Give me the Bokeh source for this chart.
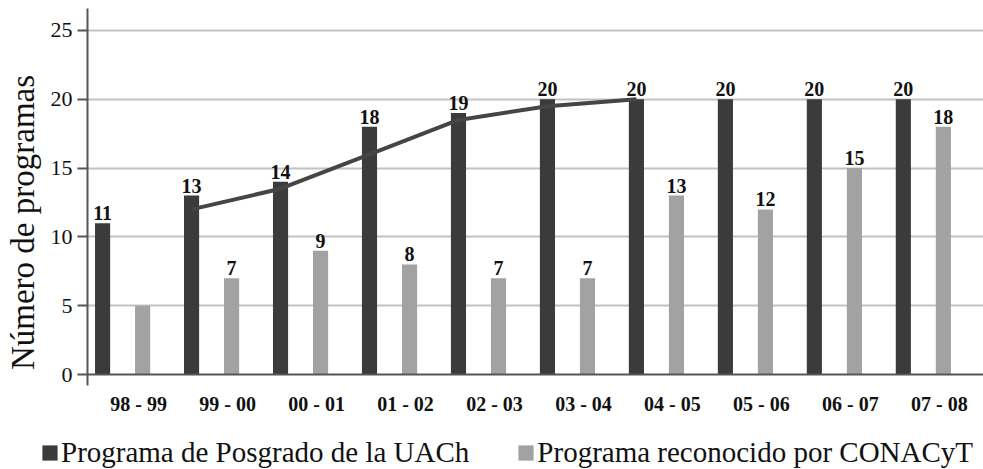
import math
from bokeh.plotting import figure
from bokeh.models import ColumnDataSource, Range1d, FixedTicker, Legend, LegendItem, Label
from bokeh.core.properties import value
from bokeh.embed import file_html
from bokeh.resources import INLINE

# Ciclos escolares
periodos = ["98 - 99", "99 - 00", "00 - 01", "01 - 02", "02 - 03",
            "03 - 04", "04 - 05", "05 - 06", "06 - 07", "07 - 08"]
# Programas de posgrado de la UACh
posgrado_uach = [11, 13, 14, 18, 19, 20, 20, 20, 20, 20]
# Programas reconocidos por CONACyT
reconocidos_conacyt = [5, 7, 9, 8, 7, 7, 13, 12, 15, 18]
etiquetas_conacyt = ["", "7", "9", "8", "7", "7", "13", "12", "15", "18"]
# Línea de tendencia (media móvil de dos periodos) sobre la serie UACh
tendencia_periodos = ["99 - 00", "00 - 01", "01 - 02", "02 - 03", "03 - 04", "04 - 05"]
tendencia = [12, 13.5, 16, 18.5, 19.5, 20]
y_ticks = [0, 5, 10, 15, 20, 25]

serie_uach = "Programa de Posgrado de la UACh"
serie_conacyt = "Programa reconocido por CONACyT"

FONT = "Liberation Serif"
DARK = "#3b3b3b"
LIGHT = "#a2a2a2"
AXIS = "#555555"

W, H = 983, 469

idx = {c: i for i, c in enumerate(periodos)}
x_uach = [idx[c] - 0.225 for c in periodos]
x_conacyt = [idx[c] + 0.225 for c in periodos]
x_tend = [idx[c] - 0.225 for c in tendencia_periodos]
tick_pos = [round(idx[c] + 0.18, 2) for c in periodos]

# the frame covers the whole canvas; both axes sit at fixed data positions
X_START, X_END = -1.3724, 9.676
Y_START, Y_END = -6.904, 27.18
Y_AXIS_AT = -0.3945
Y_AXIS_BOUNDS = (-0.8, 26.6)

src_uach = ColumnDataSource(dict(x=x_uach, y=posgrado_uach, t=[str(v) for v in posgrado_uach]))
src_con = ColumnDataSource(dict(x=x_conacyt, y=reconocidos_conacyt, t=etiquetas_conacyt))
src_tend = ColumnDataSource(dict(x=x_tend, y=tendencia))

p = figure(width=W, height=H, title=None,
           x_range=Range1d(X_START, X_END), y_range=Range1d(Y_START, Y_END),
           output_backend="svg", toolbar_location=None, min_border=0,
           background_fill_color="white", border_fill_color="white",
           outline_line_color=None)

# grid
p.xgrid.visible = False
yg = p.ygrid[0]
yg.ticker = FixedTicker(ticks=y_ticks[1:])
yg.grid_line_color = "#c2c2c2"
yg.grid_line_width = 2
if "cross_bounds" in yg.properties():
    yg.cross_bounds = (Y_AXIS_AT, X_END)

# bars
r_uach = p.vbar(x="x", top="y", bottom=0, width=0.17, source=src_uach,
                fill_color=DARK, line_color=None)
r_con = p.vbar(x="x", top="y", bottom=0, width=0.17, source=src_con,
               fill_color=LIGHT, line_color=None)

# trend line
p.line(x="x", y="y", source=src_tend, line_color="#454545", line_width=4)

# value labels
for src in (src_uach, src_con):
    p.text(x="x", y="y", text="t", source=src, text_font=value(FONT),
           text_font_style="bold", text_font_size="20px", text_color="#111111",
           text_align="center", text_baseline="alphabetic", y_offset=-10)

# y axis
ya = p.yaxis[0]
ya.fixed_location = Y_AXIS_AT
ya.bounds = Y_AXIS_BOUNDS
ya.ticker = FixedTicker(ticks=y_ticks)
ya.axis_line_color = AXIS
ya.axis_line_width = 2
ya.major_tick_line_color = AXIS
ya.major_tick_line_width = 2
ya.major_tick_out = 10
ya.major_tick_in = 0
ya.minor_tick_line_color = None
ya.major_label_standoff = 5
ya.major_label_text_font = FONT
ya.major_label_text_font_size = "22px"
ya.major_label_text_color = "#111111"

# x axis along zero
xa = p.xaxis[0]
xa.fixed_location = 0
xa.bounds = (Y_AXIS_AT, X_END)
xa.ticker = FixedTicker(ticks=tick_pos)
xa.major_label_overrides = {t: c for t, c in zip(tick_pos, periodos)}
xa.axis_line_color = AXIS
xa.axis_line_width = 2
xa.major_tick_line_color = None
xa.minor_tick_line_color = None
xa.major_tick_out = 0
xa.major_tick_in = 0
xa.major_label_standoff = 18
xa.major_label_text_font = FONT
xa.major_label_text_font_style = "bold"
xa.major_label_text_font_size = "20px"
xa.major_label_text_color = "#111111"

# y axis title
p.add_layout(Label(text="Número de programas", x=22, y=H - 222, x_units="screen", y_units="screen",
                   angle=math.pi / 2, text_align="center", text_baseline="middle",
                   text_font=FONT, text_font_size="33px", text_color="#111111"))

# legend under the period labels
legend = Legend(items=[LegendItem(label=serie_uach, renderers=[r_uach]),
                       LegendItem(label=serie_conacyt, renderers=[r_con])],
                orientation="horizontal", location=(40, 0),
                label_text_font=FONT, label_text_font_size="29px", label_text_color="#111111",
                glyph_width=19, glyph_height=19, label_standoff=2, spacing=47,
                padding=0, margin=0, border_line_color=None, background_fill_alpha=0)
p.add_layout(legend)

open("out.html", "w").write(file_html(p, INLINE))
